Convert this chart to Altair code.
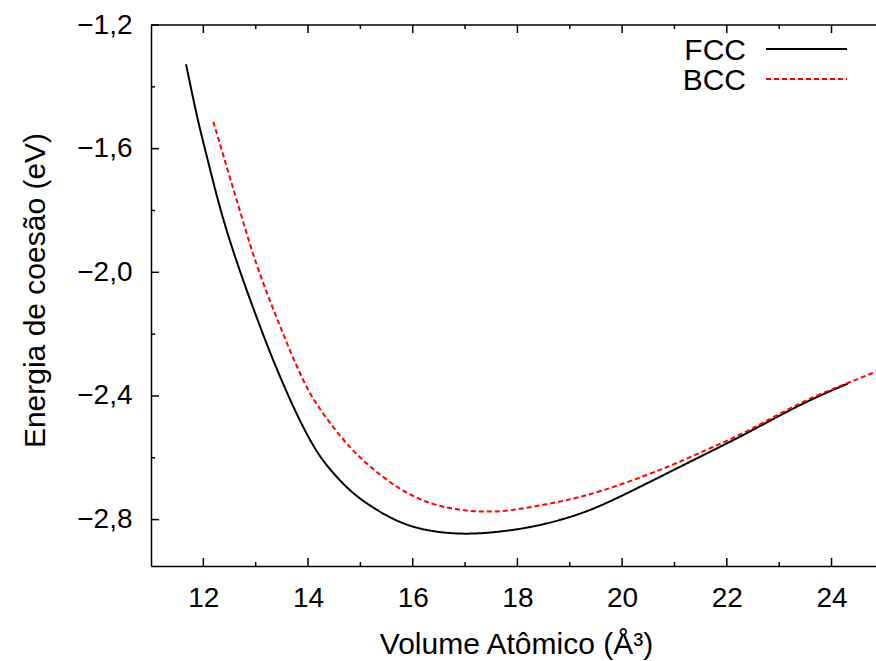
import altair as alt
import pandas as pd

# ---- data ----
fcc_x = [11.669, 11.891, 12.052, 12.210, 12.382, 12.583, 12.803, 13.038, 13.280, 13.548,
         13.844, 14.178, 14.484, 14.790, 15.109, 15.746, 16.382, 17.020, 17.657, 18.293,
         18.931, 19.567, 20.460, 21.096, 21.733, 22.371, 23.007, 23.643, 24.312]
fcc_y = [-1.327, -1.508, -1.615, -1.723, -1.831, -1.939, -2.047, -2.155, -2.263, -2.371,
         -2.482, -2.587, -2.651, -2.705, -2.748, -2.813, -2.840, -2.848, -2.840, -2.824,
         -2.797, -2.759, -2.684, -2.630, -2.576, -2.522, -2.463, -2.408, -2.360]

bcc_x = [12.191, 12.369, 12.560, 12.751, 12.942, 13.166, 13.420, 13.676, 13.963, 14.154,
         14.471, 14.790, 15.109, 15.746, 16.382, 17.020, 17.657, 18.293, 18.931, 19.567,
         20.460, 21.096, 21.733, 22.371, 23.007, 23.643, 24.282, 24.841, 25.0]
bcc_y = [-1.513, -1.615, -1.723, -1.831, -1.939, -2.047, -2.155, -2.263, -2.371, -2.425,
         -2.500, -2.565, -2.619, -2.705, -2.754, -2.773, -2.776, -2.759, -2.738, -2.711,
         -2.657, -2.614, -2.565, -2.517, -2.457, -2.403, -2.360, -2.322, -2.311]

series_names = ["FCC", "BCC"]
series_colors = ["#000000", "#ff0000"]

x_major = [12, 14, 16, 18, 20, 22, 24]
x_minor = [13, 15, 17, 19, 21, 23]
y_major = [-1.2, -1.6, -2.0, -2.4, -2.8]
y_minor = [-1.4, -1.8, -2.2, -2.6]

x_title = "Volume Atômico (Å³)"
y_title = "Energia de coesão (eV)"

# ---- layout ----
W, H = 725, 541
FONT = "Liberation Sans"
MAJ, MIN = 8, 4

curves = pd.concat([
    pd.DataFrame({"v": fcc_x, "e": fcc_y, "serie": series_names[0]}),
    pd.DataFrame({"v": bcc_x, "e": bcc_y, "serie": series_names[1]}),
])

xs = alt.Scale(domain=[11, 24.85], nice=False, zero=False)
ys = alt.Scale(domain=[-2.95, -1.2], nice=False, zero=False)

x_axis = alt.Axis(values=x_major, title=x_title, ticks=False, tickSize=0, grid=False,
                  domainColor="black", domainWidth=1.5,
                  labelFont=FONT, labelFontSize=28, labelColor="black",
                  labelBaseline="alphabetic", labelPadding=40,
                  titleFont=FONT, titleFontSize=30, titleFontWeight="normal", titleColor="black",
                  titleX=365, titleY=87, titleBaseline="alphabetic", titleAlign="center")
y_axis = alt.Axis(values=y_major, title=y_title, ticks=False, tickSize=0, grid=False,
                  domainColor="black", domainWidth=1.5,
                  labelExpr="replace(format(datum.value, '.1f'), '.', ',')",
                  labelFont=FONT, labelFontSize=28, labelColor="black",
                  labelBaseline="middle", labelPadding=19,
                  titleFont=FONT, titleFontSize=30, titleFontWeight="normal", titleColor="black",
                  titleAngle=270, titleX=-107, titleY=265, titleBaseline="alphabetic",
                  titleAlign="center")

color_scale = alt.Scale(domain=series_names, range=series_colors)
dash_scale = alt.Scale(domain=series_names, range=[[1, 0], [5, 3]])

lines = alt.Chart(curves).mark_line(strokeWidth=2, clip=True, interpolate="basis").encode(
    x=alt.X("v:Q", scale=xs, axis=x_axis),
    y=alt.Y("e:Q", scale=ys, axis=y_axis),
    color=alt.Color("serie:N", scale=color_scale, legend=None),
    strokeDash=alt.StrokeDash("serie:N", scale=dash_scale, legend=None),
)

xmaj = pd.DataFrame({"t": x_major})
xmin = pd.DataFrame({"t": x_minor})
ymaj = pd.DataFrame({"t": y_major})
ymin = pd.DataFrame({"t": y_minor})

def xtick(df, length, top):
    y0 = 0 if top else H
    y1 = length if top else H - length
    return alt.Chart(df).mark_rule(color="black", strokeWidth=1.5).encode(
        x=alt.X("t:Q", scale=xs, axis=x_axis),
        y=alt.value(y0), y2=alt.value(y1))

def ytick(df, length):
    return alt.Chart(df).mark_rule(color="black", strokeWidth=1.5).encode(
        y=alt.Y("t:Q", scale=ys, axis=y_axis),
        x=alt.value(0), x2=alt.value(length))

top_border = alt.Chart(pd.DataFrame({"a": [0]})).mark_rule(color="black", strokeWidth=1.5).encode(
    x=alt.value(0), x2=alt.value(W), y=alt.value(0))

leg = pd.DataFrame({"serie": series_names})
legend_layers = []
for i, name in enumerate(series_names):
    d = leg[leg.serie == name]
    legend_layers.append(
        alt.Chart(d).mark_text(font=FONT, fontSize=30, align="right", baseline="alphabetic",
                               color="black").encode(
            text="serie:N", x=alt.value(595), y=alt.value(35 + 30 * i)))
    legend_layers.append(
        alt.Chart(d).mark_rule(strokeWidth=2, color=series_colors[i],
                               strokeDash=[1, 0] if i == 0 else [5, 3]).encode(
            x=alt.value(615), x2=alt.value(696), y=alt.value(24 + 30 * i)))

chart = alt.layer(
    lines,
    xtick(xmaj, MAJ, False), xtick(xmin, MIN, False),
    xtick(xmaj, MAJ, True), xtick(xmin, MIN, True),
    ytick(ymaj, MAJ), ytick(ymin, MIN),
    top_border,
    *legend_layers,
).properties(
    width=W, height=H,
    autosize=alt.AutoSizeParams(type="none"),
    padding={"left": 151, "top": 25, "right": 0, "bottom": 95},
    background="white",
).configure_view(stroke=None)

chart.save("out.html", embed_options={"renderer": "svg", "actions": False})
